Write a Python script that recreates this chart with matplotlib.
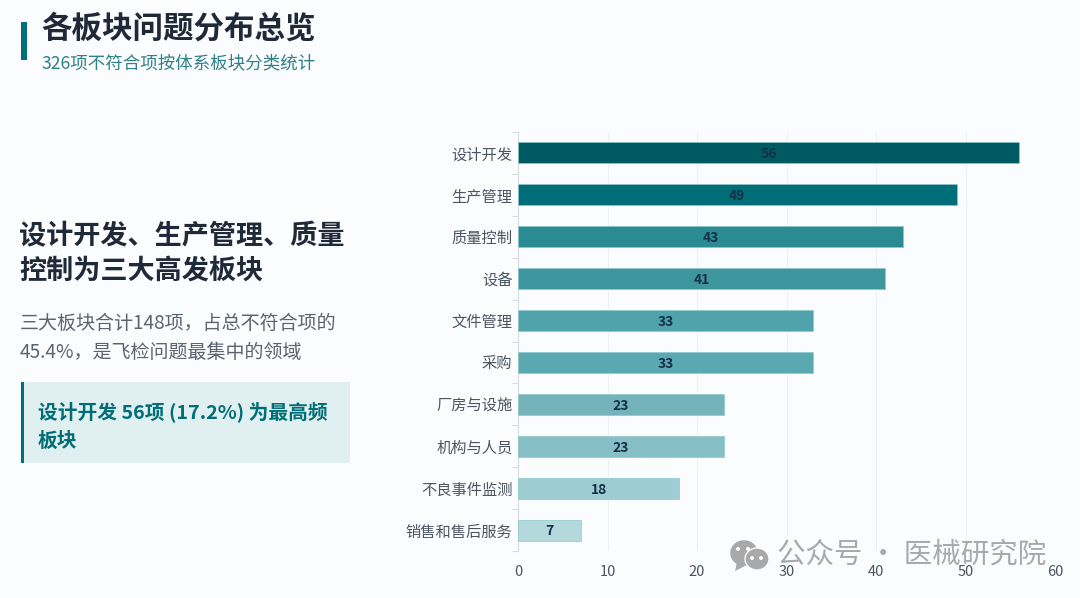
import matplotlib
matplotlib.use("Agg")
import matplotlib.pyplot as plt
from matplotlib.patches import Rectangle, Ellipse, Polygon

plt.rcParams["font.family"] = ["Noto Sans CJK SC", "DejaVu Sans"]

categories = ["设计开发", "生产管理", "质量控制", "设备", "文件管理", "采购",
              "厂房与设施", "机构与人员", "不良事件监测", "销售和售后服务"]
counts = [56, 49, 43, 41, 33, 33, 23, 23, 18, 7]
x_ticks = [0, 10, 20, 30, 40, 50, 60]
bar_colors = ["#005a62", "#006e79", "#2b8b93", "#3e969e", "#50a3ab", "#5aa9b0",
              "#74b3ba", "#86bfc5", "#9dcdd2", "#b4d9dd"]

BG = "#fafcfe"
TEAL = "#006d77"
DARK = "#1f2937"
W, H = 1080, 598

fig = plt.figure(figsize=(10.8, 5.98), dpi=100, facecolor=BG)


def px_text(x, y, s, **kw):
    # y is measured from the top of the image, like the reference
    kw.setdefault("va", "center")
    return fig.text(x / W, 1 - y / H, s, **kw)


def px_rect(x, y, w, h, color):
    fig.add_artist(Rectangle((x / W, 1 - (y + h) / H), w / W, h / H, color=color,
                             lw=0, transform=fig.transFigure))


# header
px_rect(21, 22, 6, 38, "#00707a")
px_text(41, 29, "各板块问题分布总览", fontsize=22, fontweight="bold", color=DARK)
px_text(42, 63, "326项不符合项按体系板块分类统计", fontsize=12.6, color="#2f7f88")

# left panel
px_text(19, 236, "设计开发、生产管理、质量", fontsize=19.5, fontweight="bold", color=DARK)
px_text(19, 271, "控制为三大高发板块", fontsize=19.5, fontweight="bold", color=DARK)
px_text(20, 323, "三大板块合计148项，占总不符合项的", fontsize=13.7, color="#5a6470")
px_text(20, 352, "45.4%，是飞检问题最集中的领域", fontsize=13.7, color="#5a6470")
px_rect(21, 382, 329, 81, "#e0f0f0")
px_rect(21, 382, 3, 81, "#00707a")
px_text(38, 412, "设计开发 56项 (17.2%) 为最高频", fontsize=14.2, fontweight="bold", color=TEAL)
px_text(38, 441, "板块", fontsize=14.2, fontweight="bold", color=TEAL)

# chart
ax = fig.add_axes([518 / W, 1 - 551 / H, (1055 - 518) / W, (551 - 132) / H], facecolor=BG)
y_pos = list(range(len(categories)))
bars = ax.barh(y_pos, counts, height=0.5, color=bar_colors, edgecolor="#8cc8cc",
               linewidth=0.5, zorder=3)
for bar, val in zip(bars, counts):
    ax.annotate(str(val), (val / 2, bar.get_y() + bar.get_height() / 2), xytext=(0, -1),
                textcoords="offset points", ha="center", va="center", fontsize=10,
                fontweight="bold", color="#17304a", zorder=4)

ax.set_xlim(0, 60)
ax.set_ylim(len(categories) - 0.5, -0.5)
ax.set_xticks(x_ticks)
ax.set_yticks(y_pos)
ax.set_yticklabels(categories, fontsize=11, color="#4b5560")
ax.set_yticks([i - 0.5 for i in range(len(categories) + 1)], minor=True)
ax.tick_params(axis="y", which="major", length=0, pad=4)
ax.tick_params(axis="y", which="minor", length=4, color="#d8dde2", width=0.8)
ax.tick_params(axis="x", length=0, labelsize=10.5, labelcolor="#4b5560", pad=10)
ax.grid(axis="x", color="#eef1f4", linewidth=0.8, zorder=0)
for side in ["top", "right", "bottom"]:
    ax.spines[side].set_visible(False)
ax.spines["left"].set_color("#d8dde2")
for lab in ax.get_yticklabels():
    lab.set_y(lab.get_position()[1])

# watermark
wm = "#a9a9a9"
for cx, cy, rw, rh in [(744, 553, 29, 27), (757, 559, 24, 22)]:
    fig.add_artist(Ellipse((cx / W, 1 - cy / H), rw / W, rh / H, color=wm,
                           ec=BG, lw=1, transform=fig.transFigure, zorder=5))
fig.add_artist(Polygon([(737 / W, 1 - 562 / H), (735 / W, 1 - 571 / H), (745 / W, 1 - 566 / H)],
                       closed=True, color=wm, lw=0, transform=fig.transFigure, zorder=5))
for dx, dy, col in [(738, 549, "white"), (748, 549, "white"), (752, 558, "white"), (761, 558, "white")]:
    fig.add_artist(Ellipse((dx / W, 1 - dy / H), 4 / W, 4 / H, color=col, lw=0,
                           transform=fig.transFigure, zorder=6))
px_text(777, 555, "公众号 · 医械研究院", fontsize=20.5, color=wm, zorder=6)

fig.savefig("out.png", dpi=100, facecolor=BG)
